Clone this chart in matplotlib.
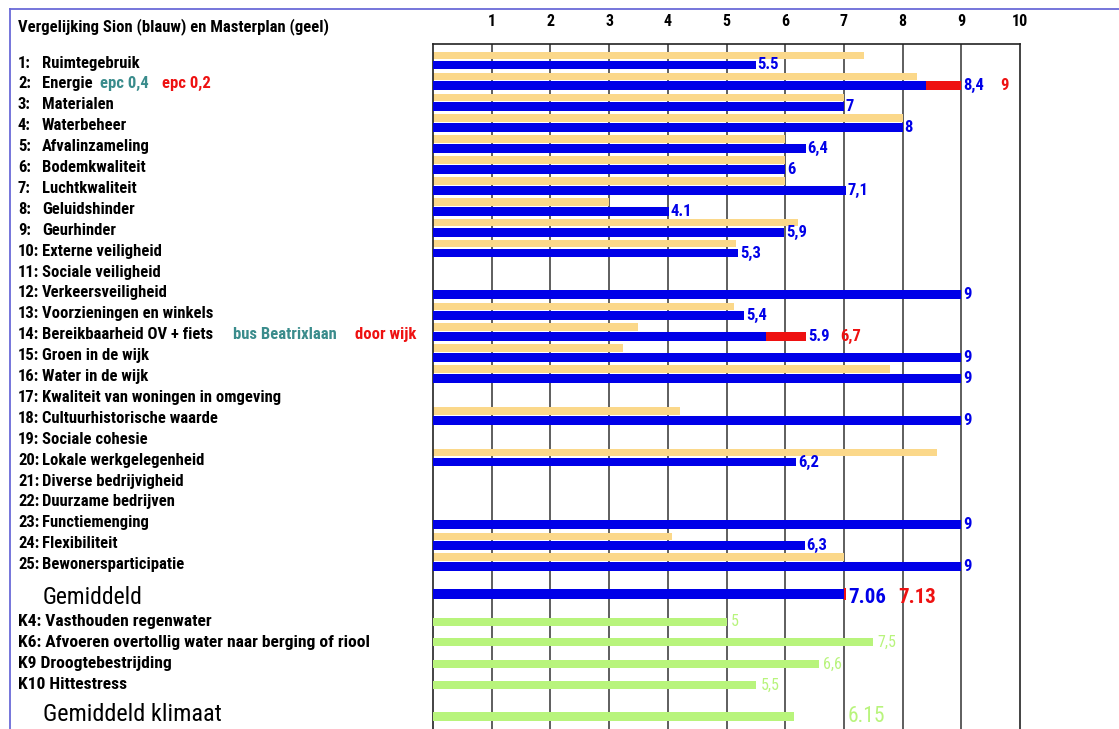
import matplotlib
matplotlib.use('Agg')
import matplotlib.pyplot as plt
import matplotlib.transforms as mtransforms
from matplotlib.lines import Line2D

# --- data ---
numbers = ['1:', '2:', '3:', '4:', '5:', '6:', '7:', '8:', '9:', '10:', '11:', '12:', '13:',
           '14:', '15:', '16:', '17:', '18:', '19:', '20:', '21:', '22:', '23:', '24:', '25:']
names = ['Ruimtegebruik', 'Energie', 'Materialen', 'Waterbeheer', 'Afvalinzameling',
         'Bodemkwaliteit', 'Luchtkwaliteit', 'Geluidshinder', 'Geurhinder', 'Externe veiligheid',
         'Sociale veiligheid', 'Verkeersveiligheid', 'Voorzieningen en winkels',
         'Bereikbaarheid OV + fiets', 'Groen in de wijk', 'Water in de wijk',
         'Kwaliteit van woningen in omgeving', 'Cultuurhistorische waarde', 'Sociale cohesie',
         'Lokale werkgelegenheid', 'Diverse bedrijvigheid', 'Duurzame bedrijven',
         'Functiemenging', 'Flexibiliteit', 'Bewonersparticipatie']
masterplan = [7.35, 8.25, 7.0, 8.0, 6.0, 6.0, 6.0, 3.0, 6.22, 5.17, None, None, 5.12,
              3.5, 3.23, 7.78, None, 4.2, None, 8.58, None, None, None, 4.07, 7.0]
sion = [5.5, 8.4, 7.0, 8.0, 6.35, 6.0, 7.03, 4.02, 5.98, 5.2, None, 9.0, 5.3,
        5.67, 9.0, 9.0, None, 9.0, None, 6.19, None, None, 9.0, 6.33, 9.0]
sion_labels = ['5.5', '8,4', '7', '8', '6,4', '6', '7,1', '4.1', '5,9', '5,3', '', '9', '5,4',
               '5.9', '9', '9', '', '9', '', '6,2', '', '', '9', '6,3', '9']

# red extensions (row number, start, end, label)
red_rows = [2, 14]
red_start = [8.4, 5.67]
red_end = [9.0, 6.36]
red_labels = ['9', '6,7']

avg_sion = 7.0
avg_red_end = 7.04
avg_labels = ['7.06', '7.13']

klimaat_names = ['K4: Vasthouden regenwater', 'K6: Afvoeren overtollig water naar berging of riool',
                 'K9 Droogtebestrijding', 'K10 Hittestress']
klimaat = [5.0, 7.49, 6.57, 5.5]
klimaat_labels = ['5', '7,5', '6,6', '5,5']
klimaat_avg = 6.15
klimaat_avg_label = '6.15'

ticks = [1, 2, 3, 4, 5, 6, 7, 8, 9, 10]

# --- styles ---
FONT = ['Roboto Condensed', 'DejaVu Sans Condensed', 'DejaVu Sans']
ST = 'condensed'
FS = 12
BLUE = '#0000e8'
YELLOW = '#fbd88a'
GREEN = '#b8f47c'
RED = '#ee1111'
TEAL = '#3a8c8c'
W, H = 1119, 729

fig = plt.figure(figsize=(W / 100, H / 100), dpi=100)
ax = fig.add_axes([433 / W, 0, (1020 - 433) / W, 1 - 44 / H])

# row positions in row units (row 1 centre at y=62px, 20.9px per row)
rows = list(range(1, 26))
y_avg = 26.45
y_klim = [27.77, 28.77, 29.8, 30.8]
y_klim_avg = 32.31

ax.set_xlim(0, 10)
ax.set_ylim(32.91, 0.14)

for t in ticks[:-1]:
    ax.axvline(t, color='#333333', lw=1.1, zorder=0)

for y, m, s in zip(rows, masterplan, sion):
    if m is not None:
        ax.barh(y - 0.31, m, height=0.36, color=YELLOW, zorder=2)
    if s is not None:
        ax.barh(y + 0.14, s, height=0.42, color=BLUE, zorder=3)

for r, a, b in zip(red_rows, red_start, red_end):
    ax.barh(r + 0.14, b - a, left=a, height=0.42, color=RED, zorder=4)

val_kw = dict(fontsize=FS, fontweight='bold', family=FONT, fontstretch=ST,
              va='center', ha='left', zorder=5)
for y, s, lab in zip(rows, sion, sion_labels):
    if s is None:
        continue
    x = s
    if y in red_rows:
        x = red_end[red_rows.index(y)]
    ax.text(x + 0.03, y + 0.14, lab, color=BLUE, **val_kw)

ax.text(9.66, 2 + 0.14, red_labels[0], color=RED, **val_kw)
ax.text(6.93, 14 + 0.14, red_labels[1], color=RED, **val_kw)

# gemiddeld
ax.barh(y_avg, avg_sion, height=0.44, color=BLUE, zorder=3)
ax.barh(y_avg, avg_red_end - avg_sion, left=avg_sion, height=0.6, color=RED, zorder=4)
ax.text(7.08, y_avg + 0.15, avg_labels[0], color=BLUE, fontsize=15, family=FONT,
        fontstretch=ST, fontweight='bold', va='center', ha='left')
ax.text(7.92, y_avg + 0.15, avg_labels[1], color=RED, fontsize=15, family=FONT,
        fontstretch=ST, fontweight='bold', va='center', ha='left')

# klimaat
for y, v, lab in zip(y_klim, klimaat, klimaat_labels):
    ax.barh(y, v, height=0.38, color=GREEN, zorder=3)
    ax.text(v + 0.08, y, lab, color=GREEN, fontsize=11.5, family=FONT, fontstretch=ST,
            va='center', ha='left')
ax.barh(y_klim_avg, klimaat_avg, height=0.4, color=GREEN, zorder=3)
ax.text(7.07, y_klim_avg, klimaat_avg_label, color=GREEN, fontsize=15.5, family=FONT,
        fontstretch=ST, va='center', ha='left')

ax.set_xticks(ticks)
ax.set_xticklabels([str(t) for t in ticks], family=FONT, fontstretch=ST,
                   fontweight='bold', fontsize=11.5)
ax.xaxis.tick_top()
ax.tick_params(axis='x', length=0, pad=11)
ax.set_yticks([])
ax.spines['bottom'].set_visible(False)
for sp in ['top', 'left', 'right']:
    ax.spines[sp].set_color('#222222')
    ax.spines[sp].set_linewidth(1.2)

# left-hand labels
tr = mtransforms.blended_transform_factory(fig.transFigure, ax.transData)
lab_kw = dict(transform=tr, family=FONT, fontstretch=ST, fontweight='bold', fontsize=FS,
              va='center', ha='left')
for y, num, name in zip(rows, numbers, names):
    ax.text(18 / W, y + 0.05, num, **lab_kw)
    ax.text(42 / W, y + 0.05, name, **lab_kw)
ax.text(100 / W, 2.05, 'epc 0,4', color=TEAL, **lab_kw)
ax.text(162 / W, 2.05, 'epc 0,2', color=RED, **lab_kw)
ax.text(233 / W, 14.05, 'bus Beatrixlaan', color=TEAL, **lab_kw)
ax.text(355 / W, 14.05, 'door wijk', color=RED, **lab_kw)

ax.text(43 / W, y_avg + 0.15, 'Gemiddeld', transform=tr, family=FONT, fontstretch=ST,
        fontsize=17, va='center', ha='left')
k_kw = dict(lab_kw, fontsize=12.6)
for y, name in zip(y_klim, klimaat_names):
    ax.text(18 / W, y, name, **k_kw)
ax.text(43 / W, y_klim_avg - 0.1, 'Gemiddeld klimaat', transform=tr, family=FONT,
        fontstretch=ST, fontsize=17.5, va='center', ha='left')

fig.text(18 / W, 1 - 27 / H, 'Vergelijking Sion (blauw) en Masterplan (geel)', family=FONT,
         fontstretch=ST, fontweight='bold', fontsize=12, va='center', ha='left')

# outer border
fig.add_artist(Line2D([10 / W, 1], [1 - 9 / H, 1 - 9 / H], color='#6a6ad8', lw=1.3))
fig.add_artist(Line2D([10 / W, 10 / W], [0, 1 - 9 / H], color='#6a6ad8', lw=1.3))

fig.savefig('out.png', dpi=100)
